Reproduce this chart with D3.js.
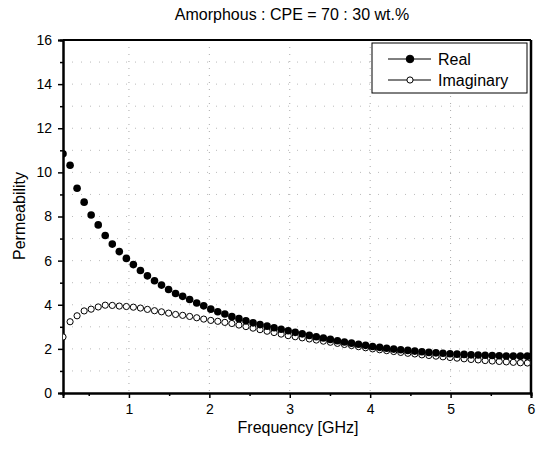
<!DOCTYPE html>
<html>
<head>
<meta charset="utf-8">
<script src="https://cdn.jsdelivr.net/npm/d3@7"></script>
<style>
  body { margin: 0; background: #fff; }
  text { font-family: "Liberation Sans", Arial, sans-serif; fill: #000; }
</style>
</head>
<body>
<div id="chart"></div>
<script>
// frequency in GHz
const freq = [
  0.180, 0.268, 0.355, 0.443, 0.530, 0.618, 0.705, 0.793, 0.880, 0.968,
  1.055, 1.143, 1.230, 1.318, 1.405, 1.493, 1.580, 1.668, 1.755, 1.843,
  1.930, 2.018, 2.105, 2.193, 2.280, 2.368, 2.455, 2.543, 2.630, 2.718,
  2.805, 2.893, 2.980, 3.068, 3.155, 3.243, 3.330, 3.418, 3.505, 3.593,
  3.680, 3.768, 3.855, 3.943, 4.030, 4.118, 4.205, 4.293, 4.380, 4.468,
  4.555, 4.643, 4.730, 4.818, 4.905, 4.993, 5.080, 5.168, 5.255, 5.343,
  5.430, 5.518, 5.605, 5.693, 5.780, 5.868, 5.955
];

const realPerm = [
  10.84, 10.32, 9.28, 8.65, 8.07, 7.62, 7.14, 6.75, 6.41, 6.10,
  5.82, 5.55, 5.31, 5.09, 4.89, 4.69, 4.51, 4.38, 4.24, 4.08,
  3.95, 3.80, 3.68, 3.58, 3.46, 3.37, 3.27, 3.18, 3.10, 3.03,
  2.96, 2.89, 2.82, 2.75, 2.68, 2.61, 2.55, 2.49, 2.43, 2.37,
  2.31, 2.26, 2.21, 2.16, 2.11, 2.07, 2.03, 1.99, 1.96, 1.93,
  1.90, 1.87, 1.84, 1.82, 1.80, 1.78, 1.76, 1.75, 1.73, 1.72,
  1.71, 1.70, 1.69, 1.68, 1.68, 1.67, 1.67
];

const imagPerm = [
  2.54, 3.23, 3.50, 3.72, 3.80, 3.90, 3.98, 3.97, 3.94, 3.92,
  3.89, 3.85, 3.79, 3.73, 3.68, 3.62, 3.56, 3.52, 3.47, 3.41,
  3.35, 3.29, 3.25, 3.20, 3.15, 3.08, 3.01, 2.94, 2.87, 2.80,
  2.74, 2.67, 2.60, 2.55, 2.50, 2.45, 2.40, 2.35, 2.30, 2.25,
  2.20, 2.15, 2.10, 2.05, 2.00, 1.96, 1.92, 1.88, 1.84, 1.80,
  1.77, 1.73, 1.70, 1.67, 1.64, 1.61, 1.58, 1.55, 1.52, 1.50,
  1.47, 1.45, 1.43, 1.41, 1.39, 1.37, 1.36
];

const xMajor = [1, 2, 3, 4, 5, 6];
const xMinor = [0.5, 1.5, 2.5, 3.5, 4.5, 5.5];
const yMajor = [0, 2, 4, 6, 8, 10, 12, 14, 16];
const yMinor = [1, 3, 5, 7, 9, 11, 13, 15];

const margin = { top: 40, right: 9, bottom: 60, left: 63 };
const W = 540, H = 453;
const width = W - margin.left - margin.right;
const height = H - margin.top - margin.bottom;

const svg = d3.select('#chart')
  .append('svg')
  .attr('width', W)
  .attr('height', H);

const g = svg.append('g')
  .attr('transform', `translate(${margin.left}, ${margin.top})`);

const x = d3.scaleLinear().domain([0.18, 6]).range([0, width]);
const y = d3.scaleLinear().domain([0, 16]).range([height, 0]);

// faint dotted grid
g.append('g')
  .selectAll('line')
  .data(xMajor.slice(0, -1))
  .enter().append('line')
  .attr('x1', d => x(d)).attr('x2', d => x(d))
  .attr('y1', 0).attr('y2', height)
  .attr('stroke', '#aaa')
  .attr('stroke-width', 1)
  .attr('stroke-dasharray', '1,6');

g.append('g')
  .selectAll('line')
  .data(d3.range(1, 16))
  .enter().append('line')
  .attr('x1', 0).attr('x2', width)
  .attr('y1', d => y(d)).attr('y2', d => y(d))
  .attr('stroke', '#bbb')
  .attr('stroke-width', 1)
  .attr('stroke-dasharray', '1,8');

// axes
const styleAxis = sel => {
  sel.select('.domain').attr('stroke', '#000').attr('stroke-width', 2);
  sel.selectAll('.tick line').attr('stroke', '#000').attr('stroke-width', 1.5);
  sel.selectAll('.tick text')
    .style('font-family', '"Liberation Sans", Arial, sans-serif')
    .style('font-size', '14px');
};

g.append('g')
  .attr('transform', `translate(0, ${height})`)
  .call(d3.axisBottom(x).tickValues(xMinor).tickSize(3).tickFormat(''))
  .call(styleAxis);

g.append('g')
  .attr('transform', `translate(0, ${height})`)
  .call(d3.axisBottom(x).tickValues(xMajor).tickSize(5).tickPadding(6).tickFormat(d3.format('d')))
  .call(styleAxis);

g.append('g')
  .call(d3.axisLeft(y).tickValues(yMinor).tickSize(3).tickFormat(''))
  .call(styleAxis);

g.append('g')
  .call(d3.axisLeft(y).tickValues(yMajor).tickSize(5).tickPadding(6).tickFormat(d3.format('d')))
  .call(styleAxis);

// top and right frame
g.append('line')
  .attr('x1', 0).attr('x2', width).attr('y1', 0).attr('y2', 0)
  .attr('stroke', '#000').attr('stroke-width', 2);
g.append('line')
  .attr('x1', width).attr('x2', width).attr('y1', 0).attr('y2', height)
  .attr('stroke', '#000').attr('stroke-width', 2.5);

// data
g.append('clipPath').attr('id', 'plotclip')
  .append('rect').attr('x', 0).attr('y', 0).attr('width', width).attr('height', height);

const pts = g.append('g').attr('clip-path', 'url(#plotclip)');

pts.selectAll('.imag')
  .data(freq)
  .enter().append('circle')
  .attr('class', 'imag')
  .attr('cx', d => x(d))
  .attr('cy', (d, i) => y(imagPerm[i]))
  .attr('r', 3.1)
  .attr('fill', '#fff')
  .attr('stroke', '#000')
  .attr('stroke-width', 1);

pts.selectAll('.real')
  .data(freq)
  .enter().append('circle')
  .attr('class', 'real')
  .attr('cx', d => x(d))
  .attr('cy', (d, i) => y(realPerm[i]))
  .attr('r', 3.8)
  .attr('fill', '#000');

// legend
const leg = svg.append('g');
leg.append('rect')
  .attr('x', 372).attr('y', 43).attr('width', 155).attr('height', 50)
  .attr('fill', '#fff').attr('stroke', '#000').attr('stroke-width', 1);

const legItems = [
  { name: 'Real', fill: '#000', r: 3.8 },
  { name: 'Imaginary', fill: '#fff', r: 3.1 }
];
legItems.forEach((d, i) => {
  const cy = 59 + i * 21;
  leg.append('line')
    .attr('x1', 388).attr('x2', 431).attr('y1', cy).attr('y2', cy)
    .attr('stroke', '#000').attr('stroke-width', 1);
  leg.append('circle')
    .attr('cx', 410).attr('cy', cy).attr('r', d.r)
    .attr('fill', d.fill).attr('stroke', '#000').attr('stroke-width', 1);
  leg.append('text')
    .attr('x', 438).attr('y', cy + 5.5)
    .style('font-size', '16px')
    .text(d.name);
});

// titles
svg.append('text')
  .attr('x', 292).attr('y', 20)
  .attr('text-anchor', 'middle')
  .style('font-size', '16px')
  .text('Amorphous : CPE = 70 : 30 wt.%');

svg.append('text')
  .attr('x', 298).attr('y', 433)
  .attr('text-anchor', 'middle')
  .style('font-size', '16px')
  .text('Frequency [GHz]');

svg.append('text')
  .attr('transform', 'translate(25, 216) rotate(-90)')
  .attr('text-anchor', 'middle')
  .style('font-size', '16px')
  .text('Permeability');
</script>
</body>
</html>
